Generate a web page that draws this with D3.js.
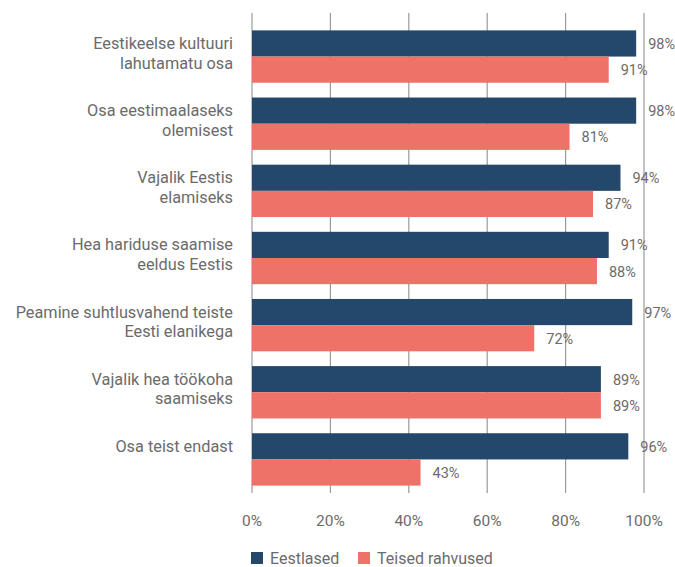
<!DOCTYPE html>
<html>
<head>
<meta charset="utf-8">
<script src="https://cdn.jsdelivr.net/npm/d3@7"></script>
<style>
  body { margin: 0; background: #fff; }
  text { font-family: Roboto, "Noto Sans", sans-serif; fill: #6b6b6b; }
</style>
</head>
<body>
<script>
const width = 675, height = 567;

// data
const categories = [
    ["Eestikeelse kultuuri", "lahutamatu osa"],
    ["Osa eestimaalaseks", "olemisest"],
    ["Vajalik Eestis", "elamiseks"],
    ["Hea hariduse saamise", "eeldus Eestis"],
    ["Peamine suhtlusvahend teiste", "Eesti elanikega"],
    ["Vajalik hea töökoha", "saamiseks"],
    ["Osa teist endast"]
];
const eestlased = [98, 98, 94, 91, 97, 89, 96];
const teised = [91, 81, 87, 88, 72, 89, 43];
const seriesNames = ["Eestlased", "Teised rahvused"];
const seriesColors = ["#24486c", "#ee7268"];
const xTicks = [0, 20, 40, 60, 80, 100];

const svg = d3.select("body").append("svg").attr("width", width).attr("height", height);

const x = d3.scaleLinear().domain([0, 100]).range([252, 644]);
const y = d3.scaleBand().domain(d3.range(categories.length)).range([23, 493])
    .paddingInner(0.22).paddingOuter(0.11);
const sub = d3.scaleBand().domain([0, 1]).range([0, y.bandwidth()]);

// grid lines
svg.append("g").selectAll("line")
    .data(xTicks)
    .enter().append("line")
    .attr("x1", d => x(d)).attr("x2", d => x(d))
    .attr("y1", 13).attr("y2", 493)
    .style("stroke", "#9a9a9a")
    .style("stroke-width", 1.2);

// tick labels
svg.append("g").selectAll("text")
    .data(xTicks)
    .enter().append("text")
    .attr("x", d => x(d))
    .attr("y", 526)
    .attr("text-anchor", "middle")
    .style("font-size", "15.5px")
    .text(d => d + "%");

const rows = categories.map((c, i) => ({i, label: c, vals: [eestlased[i], teised[i]]}));

const group = svg.selectAll(".grp")
    .data(rows)
    .enter().append("g")
    .attr("class", "grp")
    .attr("transform", d => `translate(0, ${y(d.i)})`);

group.selectAll("rect")
    .data(d => d.vals)
    .enter().append("rect")
    .attr("x", x(0))
    .attr("y", (d, j) => sub(j))
    .attr("width", d => x(d) - x(0))
    .attr("height", sub.bandwidth())
    .style("fill", (d, j) => seriesColors[j]);

group.selectAll(".val")
    .data(d => d.vals)
    .enter().append("text")
    .attr("class", "val")
    .attr("x", d => x(d) + 12)
    .attr("y", (d, j) => sub(j) + sub.bandwidth() / 2)
    .attr("dy", "0.38em")
    .style("font-size", "14.5px")
    .text(d => d + "%");

// category labels, first line sits a bit above the middle of the group
const lbl = group.append("text")
    .attr("x", 233)
    .attr("y", y.bandwidth() / 2 - 7.5)
    .attr("text-anchor", "end")
    .style("font-size", "16.3px");

lbl.selectAll("tspan")
    .data(d => d.label)
    .enter().append("tspan")
    .attr("x", 233)
    .attr("dy", (d, k) => k === 0 ? 0 : 19.5)
    .text(d => d);

// legend
const legend = svg.append("g").attr("transform", "translate(251, 552)");
const legendX = [0, 107];
const item = legend.selectAll("g")
    .data(seriesNames)
    .enter().append("g")
    .attr("transform", (d, i) => `translate(${legendX[i]}, 0)`);

item.append("rect")
    .attr("width", 12)
    .attr("height", 12)
    .style("fill", (d, i) => seriesColors[i]);

item.append("text")
    .attr("x", 19)
    .attr("y", 12)
    .style("font-size", "16px")
    .text(d => d);
</script>
</body>
</html>
